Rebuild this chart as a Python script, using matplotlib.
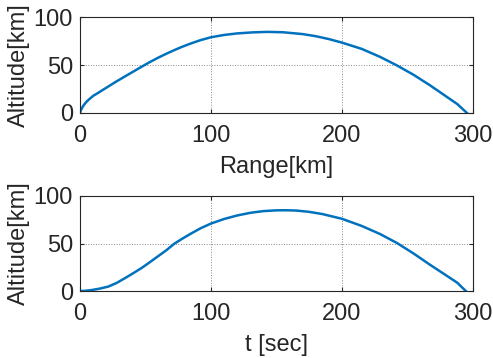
import numpy as np
import matplotlib.pyplot as plt

plt.rcParams['font.family'] = ['Liberation Sans', 'DejaVu Sans']

# top: altitude vs range
range_km = [0, 0.5, 1.3, 2.5, 3.8, 5.5, 7.6, 10, 13.9, 17, 21.5, 27, 34.2, 40, 46.8,
            53, 59.5, 66, 72, 78, 84.8, 92, 100, 110, 120, 132, 143, 155, 170, 180,
            190, 200, 215, 229, 242, 254.6, 267, 280, 288, 295.4]
alt_range = [0, 2.3, 4.6, 7.5, 9.8, 12.5, 15, 17.8, 21, 23.7, 27.5, 32.2, 38, 42.6, 48,
             52.8, 57.5, 61.8, 65.5, 69, 72.5, 75.9, 78.9, 81.3, 82.9, 84, 84.5, 84.1, 82.2,
             80, 77, 73.3, 66.8, 58.5, 49.5, 39.8, 29, 16.8, 9.3, 0]

# bottom: altitude vs time
t_sec = [0, 4, 8.9, 15, 21.5, 28, 34.2, 40, 46.8, 53, 59.5, 66, 72, 78, 84.8, 92,
         100, 110, 120, 130, 140, 150, 157, 165, 175, 185, 200, 215, 229, 242, 254.6,
         267, 280, 288, 294.5]
alt_time = [0, 0.2, 1, 2.5, 4.6, 8.5, 13.4, 18.2, 24, 30, 36.5, 43, 49.8, 55, 60.5, 66,
            71, 75.8, 79.5, 82.3, 84.1, 84.9, 85, 84.7, 83.3, 81, 76, 68.5, 60, 50.5, 39.5,
            27.8, 16, 8.7, 0]

blue = '#0072BD'
fig = plt.figure(figsize=(4.93, 3.58), dpi=100)
ax1 = fig.add_axes([80/493, 1-113/358, 393/493, 96/358])
ax2 = fig.add_axes([80/493, 1-291/358, 393/493, 95/358])

for ax, x, y, xl in [(ax1, range_km, alt_range, 'Range[km]'),
                     (ax2, t_sec, alt_time, 't [sec]')]:
    ax.plot(x, y, color=blue, linewidth=1.8)
    ax.set_xlim(0, 300)
    ax.set_ylim(0, 100)
    ax.set_xticks([0, 100, 200, 300])
    ax.set_yticks([0, 50, 100])
    ax.grid(True, color='#888888', linestyle=':', linewidth=0.7)
    ax.tick_params(direction='in', top=True, right=True, labelsize=17,
                   colors='#262626', length=3)
    ax.tick_params(axis='x', pad=9)
    ax.tick_params(axis='y', pad=5)
    for s in ax.spines.values():
        s.set_color('#262626')
        s.set_linewidth(0.8)
    ax.set_xlabel(xl, fontsize=17, color='#262626', labelpad=6)
    ax.set_ylabel('Altitude[km]', fontsize=17, color='#262626', labelpad=3)

fig.savefig('out.png', dpi=100)
